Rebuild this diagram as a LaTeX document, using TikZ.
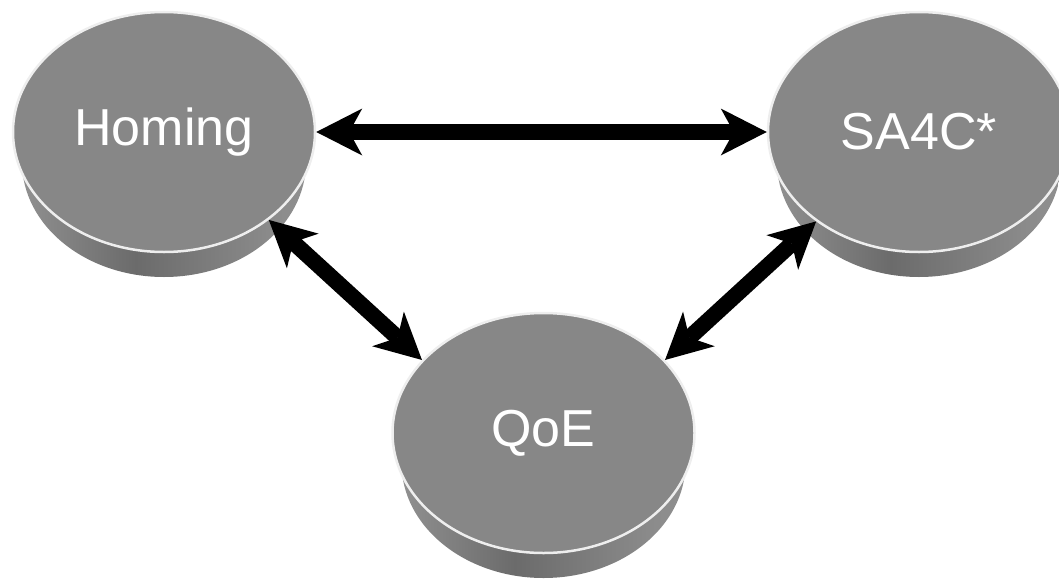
\documentclass[tikz,border=0pt]{standalone}
\usepackage{fontspec}
\setmainfont{Liberation Sans}
\usetikzlibrary{arrows.meta,shapes.geometric}
\definecolor{disktop}{RGB}{135,135,135}
\definecolor{diskrim}{RGB}{238,238,238}
\pgfdeclarehorizontalshading{diskside}{100bp}{%
  color(0bp)=(black!55!white);
  color(20bp)=(black!40!white);
  color(45bp)=(black!58!white);
  color(70bp)=(black!45!white);
  color(88bp)=(black!42!white);
  color(100bp)=(black!58!white)}
\tikzset{
  disk/.style={ellipse, fill=disktop, draw=diskrim, line width=2.5pt,
    minimum width=302pt, minimum height=240pt, inner sep=0pt,
    text=white, font=\fontsize{52}{60}\selectfont},
  link/.style={line width=16pt, {Stealth[length=46pt,width=47pt,inset=13pt,line width=0pt]}-{Stealth[length=46pt,width=47pt,inset=13pt,line width=0pt]}}
}
\newcommand{\diskside}[2]{%
  \shade[shading=diskside] (#1,#2+30) ellipse [x radius=142, y radius=115];}
\begin{document}
\begin{tikzpicture}[x=1pt,y=-1pt]
\useasboundingbox (0,0) rectangle (1059,578);
\clip (0,0) rectangle (1059,578);
\diskside{164}{132}
\diskside{919}{132}
\diskside{543.5}{433}
\node[disk] (hom) at (164,132) {Homing};
\node[disk] (sa) at (919,132) {SA4C*};
\node[disk] (qoe) at (543.5,433) {QoE};
\draw[link] (hom) -- (sa);
\draw[link] (hom.-40) -- (qoe.149);
\draw[link] (sa.-139) -- (qoe.31);
\end{tikzpicture}
\end{document}
